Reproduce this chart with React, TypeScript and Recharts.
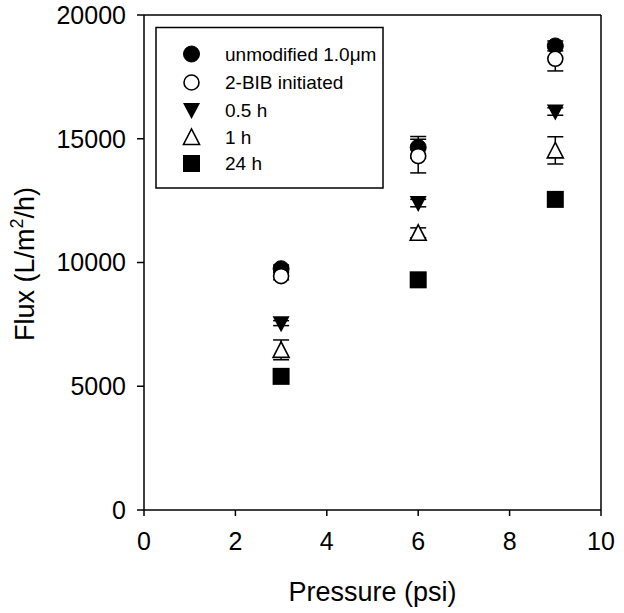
import React from "react";
import {
  ScatterChart,
  Scatter,
  XAxis,
  YAxis,
  ErrorBar,
  ReferenceLine,
  Customized,
} from "recharts";

const pressure = [3, 6, 9];
const unmodified = [9750, 14650, 18750];
const unmodifiedErr = [150, 440, 200];
const bibInitiated = [9450, 14300, 18230];
const bibInitiatedErr = [150, 680, 490];
const halfHour = [7550, 12400, 16100];
const halfHourErr = [100, 150, 150];
const oneHour = [6470, 11200, 14530];
const oneHourErr = [400, 200, 550];
const dayLong = [5400, 9300, 12550];
const dayLongErr = [0, 0, 0];

const seriesNames = ["unmodified 1.0\u03bcm", "2-BIB initiated", "0.5 h", "1 h", "24 h"];
const xTicks = [0, 2, 4, 6, 8, 10];
const yTicks = [0, 5000, 10000, 15000, 20000];

const FONT = "'Liberation Sans', Arial, sans-serif";

const build = (vals: number[], errs: number[]) =>
  pressure.map((p, i) => ({ x: p, y: vals[i], err: errs[i] }));

const FilledCircle = (p: any) => <circle cx={p.cx} cy={p.cy} r={8} fill="#000" stroke="#000" strokeWidth={1} />;
const OpenCircle = (p: any) => <circle cx={p.cx} cy={p.cy} r={7.5} fill="#fff" stroke="#000" strokeWidth={1.6} />;
const TriDown = (p: any) => (
  <path d={`M${p.cx - 8.5},${p.cy - 7} L${p.cx + 8.5},${p.cy - 7} L${p.cx},${p.cy + 9} Z`} fill="#000" />
);
const TriUp = (p: any) => (
  <path d={`M${p.cx - 8},${p.cy + 7.5} L${p.cx + 8},${p.cy + 7.5} L${p.cx},${p.cy - 8} Z`} fill="#fff" stroke="#000" strokeWidth={1.6} />
);
const Square = (p: any) => <rect x={p.cx - 8.5} y={p.cy - 8.5} width={17} height={17} fill="#000" />;

const shapes = [FilledCircle, OpenCircle, TriDown, TriUp, Square];

const Overlay = () => {
  const rows = [54, 82.5, 110, 137, 163.5];
  return (
    <g>
      <rect x={156} y={27.5} width={227} height={160.5} fill="#fff" stroke="#000" strokeWidth={1.5} />
      {seriesNames.map((n, i) => {
        const S = shapes[i];
        return (
          <g key={n}>
            <S cx={191.5} cy={rows[i]} />
            <text x={225} y={rows[i] + 6.5} fontFamily={FONT} fontSize={19} fill="#000">
              {n}
            </text>
          </g>
        );
      })}
      <text
        transform="translate(34,264) rotate(-90)"
        textAnchor="middle"
        fontFamily={FONT}
        fontSize={27}
        fill="#000"
      >
        <tspan>Flux (L/m</tspan>
        <tspan fontSize={18} dy={-11}>2</tspan>
        <tspan dy={11}>/h)</tspan>
      </text>
    </g>
  );
};

export default function App() {
  const datasets = [
    build(unmodified, unmodifiedErr),
    build(bibInitiated, bibInitiatedErr),
    build(halfHour, halfHourErr),
    build(oneHour, oneHourErr),
    build(dayLong, dayLongErr),
  ];
  return (
    <div style={{ position: "absolute", left: 0, top: 0, background: "#fff" }}>
      <ScatterChart width={624} height={613} margin={{ top: 15, right: 23, bottom: 0, left: 0 }}>
        <XAxis
          type="number"
          dataKey="x"
          domain={[0, 10]}
          ticks={xTicks}
          allowDataOverflow
          height={103}
          stroke="#000"
          strokeWidth={1.5}
          tickSize={6}
          tickMargin={16}
          tick={{ fill: "#000", fontSize: 25, fontFamily: FONT }}
          label={{
            value: "Pressure (psi)",
            position: "insideBottom",
            offset: 12,
            style: { fill: "#000", fontSize: 27, fontFamily: FONT },
          }}
        />
        <YAxis
          type="number"
          dataKey="y"
          domain={[0, 20000]}
          ticks={yTicks}
          allowDataOverflow
          width={144}
          stroke="#000"
          strokeWidth={1.5}
          tickSize={7}
          tickMargin={11}
          tick={{ fill: "#000", fontSize: 25, fontFamily: FONT }}
        />
        <ReferenceLine y={20000} stroke="#000" strokeWidth={1.5} />
        <ReferenceLine x={10} stroke="#000" strokeWidth={1.5} />
        {datasets.map((d, i) => (
          <Scatter key={seriesNames[i]} name={seriesNames[i]} data={d} shape={shapes[i]} isAnimationActive={false}>
            <ErrorBar dataKey="err" direction="y" width={8} stroke="#000" strokeWidth={1.5} />
          </Scatter>
        ))}
        <Customized component={Overlay} />
      </ScatterChart>
    </div>
  );
}
